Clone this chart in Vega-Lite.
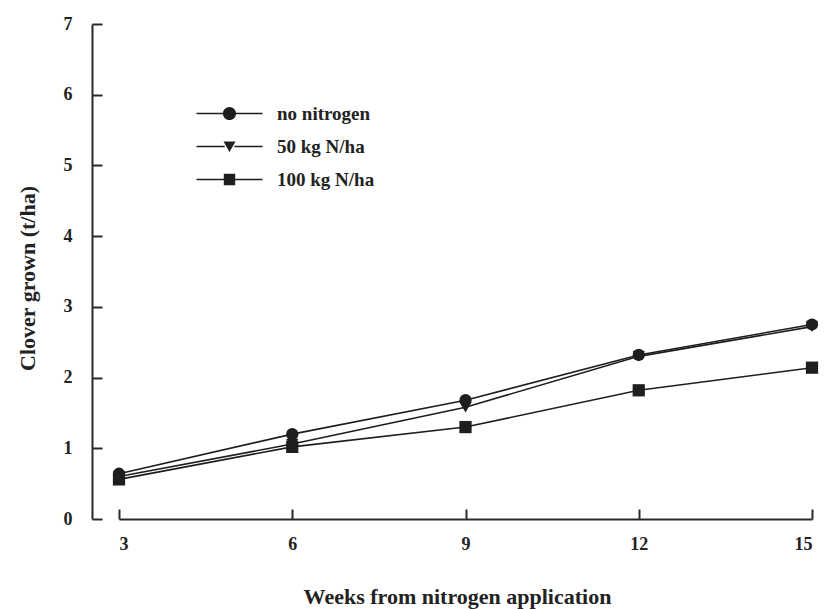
{
  "$schema": "https://vega.github.io/schema/vega-lite/v6.json",
  "autosize": "none",
  "width": 693,
  "height": 495,
  "padding": {"left": 119, "top": 24, "right": 13, "bottom": 90},
  "background": "white",
  "config": {
    "view": {"stroke": null},
    "font": "Liberation Serif",
    "axis": {"grid": false, "domainColor": "#2a2a2a", "domainWidth": 2, "tickColor": "#2a2a2a", "tickWidth": 2, "labelFont": "Liberation Serif", "labelFontWeight": "bold", "labelFontSize": 18, "labelColor": "#222", "titleFont": "Liberation Serif", "titleFontWeight": "bold", "titleFontSize": 22, "titleColor": "#222"}
  },
  "data": {"values": [
    {"week": 3, "series": "no nitrogen", "clover": 0.64},
    {"week": 6, "series": "no nitrogen", "clover": 1.2},
    {"week": 9, "series": "no nitrogen", "clover": 1.68},
    {"week": 12, "series": "no nitrogen", "clover": 2.32},
    {"week": 15, "series": "no nitrogen", "clover": 2.75},
    {"week": 3, "series": "50 kg N/ha", "clover": 0.6},
    {"week": 6, "series": "50 kg N/ha", "clover": 1.06},
    {"week": 9, "series": "50 kg N/ha", "clover": 1.58},
    {"week": 12, "series": "50 kg N/ha", "clover": 2.3},
    {"week": 15, "series": "50 kg N/ha", "clover": 2.72},
    {"week": 3, "series": "100 kg N/ha", "clover": 0.56},
    {"week": 6, "series": "100 kg N/ha", "clover": 1.02},
    {"week": 9, "series": "100 kg N/ha", "clover": 1.3},
    {"week": 12, "series": "100 kg N/ha", "clover": 1.82},
    {"week": 15, "series": "100 kg N/ha", "clover": 2.14}
  ]},
  "encoding": {
    "x": {"field": "week", "type": "quantitative", "scale": {"domain": [3, 15], "nice": false, "zero": false},
      "axis": {"values": [3, 6, 9, 12, 15], "tickSize": -10, "labelPadding": 26, "title": "Weeks from nitrogen application", "titlePadding": 33, "titleX": 338}},
    "y": {"field": "clover", "type": "quantitative", "scale": {"domain": [0, 7], "nice": false},
      "axis": {"values": [0, 1, 2, 3, 4, 5, 6, 7], "tickSize": -10, "offset": 27, "labelPadding": 30, "title": "Clover grown (t/ha)", "titlePadding": 24, "titleY": 254}}
  },
  "layer": [
    {"mark": {"type": "line", "color": "#1e1e1e", "strokeWidth": 1.6}, "encoding": {"detail": {"field": "series"}}},
    {"mark": {"type": "point", "filled": true, "color": "#1e1e1e", "opacity": 1, "size": 150},
      "encoding": {"shape": {"field": "series", "type": "nominal", "scale": {"domain": ["no nitrogen", "50 kg N/ha", "100 kg N/ha"], "range": ["circle", "triangle-down", "square"]}, "legend": null}}},
    {"mark": {"type": "point", "filled": true, "color": "#1e1e1e", "opacity": 0, "size": 144},
      "encoding": {"shape": {"field": "series", "type": "nominal",
        "scale": {"domain": ["no nitrogen", "50 kg N/ha", "100 kg N/ha"], "range": [
          "M-5.5,-0.13H-1V0.13H-5.5ZM1,-0.13H5.5V0.13H1ZM-1.1,0A1.1,1.1 0 1,1 1.1,0A1.1,1.1 0 1,1 -1.1,0Z",
          "M-5.5,-0.13H-0.8V0.13H-5.5ZM0.8,-0.13H5.5V0.13H0.8ZM-1,-0.85L1,-0.85L0,0.9Z",
          "M-5.5,-0.13H-0.9V0.13H-5.5ZM0.9,-0.13H5.5V0.13H0.9ZM-0.95,-0.95H0.95V0.95H-0.95Z"]},
        "legend": {"orient": "none", "legendX": 101, "legendY": 80, "title": null, "padding": 0, "symbolSize": 144, "symbolOpacity": 1, "symbolFillColor": "#1e1e1e", "labelOffset": 38, "labelFont": "Liberation Serif", "labelFontWeight": "bold", "labelFontSize": 19, "labelColor": "#222", "rowPadding": 13}}}}
  ],
  "resolve": {"scale": {"shape": "independent"}, "legend": {"shape": "independent"}}
}
